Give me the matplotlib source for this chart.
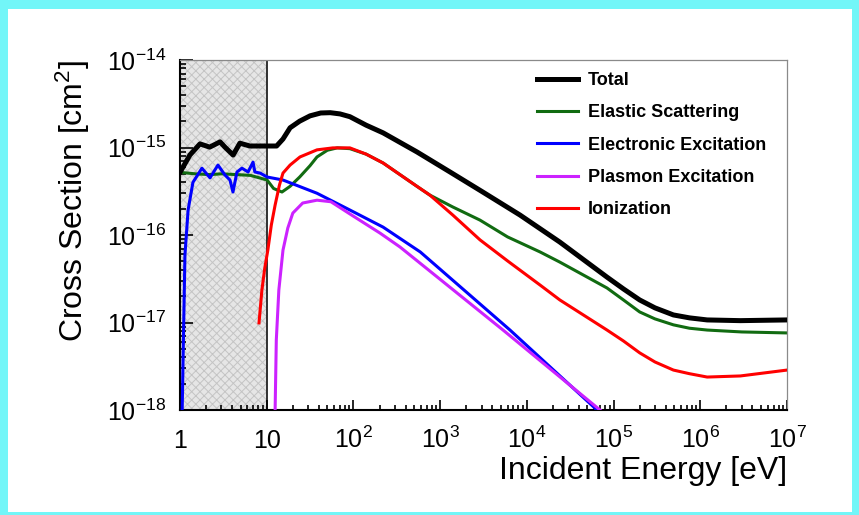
import matplotlib
matplotlib.use('Agg')
import matplotlib.pyplot as plt
from matplotlib.patches import Rectangle
from matplotlib.lines import Line2D
from matplotlib.ticker import LogLocator, NullFormatter

plt.rcParams['font.family'] = ['Liberation Sans', 'DejaVu Sans']
plt.rcParams['mathtext.fontset'] = 'custom'
plt.rcParams['mathtext.rm'] = 'Liberation Sans'
plt.rcParams['mathtext.it'] = 'Liberation Sans:italic'
plt.rcParams['mathtext.bf'] = 'Liberation Sans:bold'
plt.rcParams['hatch.linewidth'] = 0.7

# Total
e_tot = [1.0, 1.3, 1.7, 2.2, 2.9, 3.3, 4.1, 4.9, 6.4, 9.1, 13, 15.4, 18.6, 24, 31.6, 42, 54, 70, 91,
         140, 220, 540, 1300, 3100, 8340, 2.4e4, 8.4e4, 1.3e5, 2.0e5, 3e5, 4.9e5, 7.5e5, 1.2e6, 2.9e6, 1e7]
s_tot = [5.2e-16, 8.2e-16, 1.10e-15, 1.01e-15, 1.16e-15, 1.01e-15, 8.2e-16, 1.12e-15, 1.04e-15, 1.04e-15,
         1.04e-15, 1.25e-15, 1.68e-15, 2.0e-15, 2.3e-15, 2.48e-15, 2.5e-15, 2.42e-15, 2.25e-15,
         1.8e-15, 1.47e-15, 8.9e-16, 5.25e-16, 3.1e-16, 1.69e-16, 8.3e-17, 3.3e-17, 2.42e-17, 1.81e-17,
         1.47e-17, 1.22e-17, 1.13e-17, 1.07e-17, 1.05e-17, 1.07e-17]

# Elastic Scattering
e_ela = [1.0, 1.5, 2.2, 3.0, 4.5, 6.5, 10.1, 12, 15, 18.6, 24, 31.6, 38, 50, 65, 91, 140, 220, 540, 760,
         1400, 2880, 6000, 1.42e4, 2.4e4, 8.4e4, 1.3e5, 2.0e5, 3e5, 4.9e5, 7.5e5, 1.2e6, 3e6, 1e7]
s_ela = [5.2e-16, 5.0e-16, 4.9e-16, 5.0e-16, 4.9e-16, 4.8e-16, 4.25e-16, 3.4e-16, 3.1e-16, 3.6e-16,
         4.6e-16, 6.2e-16, 7.8e-16, 9.3e-16, 9.9e-16, 9.7e-16, 8.4e-16, 6.65e-16, 3.6e-16, 2.86e-16,
         2.09e-16, 1.48e-16, 9.5e-17, 6.4e-17, 4.9e-17, 2.48e-17, 1.81e-17, 1.32e-17, 1.1e-17, 9.4e-18,
         8.6e-18, 8.2e-18, 7.8e-18, 7.6e-18]

# Electronic Excitation
e_exc = [1.06, 1.10, 1.14, 1.24, 1.41, 1.79, 2.22, 2.74, 3.3, 3.77, 4.08, 4.54, 5.18, 6.1, 6.95, 7.3,
         8.4, 10.1, 15.4, 38, 91, 220, 590, 6390, 6.44e4]
s_exc = [1e-18, 8.2e-18, 5.9e-17, 1.93e-16, 4.0e-16, 5.8e-16, 4.5e-16, 6.3e-16, 4.85e-16, 4.25e-16,
         3.1e-16, 5.25e-16, 5.8e-16, 5.25e-16, 6.8e-16, 5.25e-16, 5.1e-16, 4.6e-16, 4.25e-16, 3.0e-16,
         1.93e-16, 1.23e-16, 6.4e-17, 8.2e-18, 1e-18]

# Plasmon Excitation
e_pla = [12.5, 12.9, 13.8, 15.4, 17.5, 20, 26, 38, 55, 91, 203, 344, 5310, 6.98e4]
s_pla = [1e-18, 6.3e-18, 2.35e-17, 6.7e-17, 1.2e-16, 1.78e-16, 2.32e-16, 2.5e-16, 2.4e-16, 1.74e-16,
         1.05e-16, 7.3e-17, 8.2e-18, 1e-18]

# Ionization
e_ion = [8.15, 8.8, 9.5, 10.3, 11.3, 12.5, 14, 15.4, 18.6, 24.2, 38, 58, 91, 140, 220, 540, 760, 1400,
         2880, 6000, 1.42e4, 2.4e4, 8.4e4, 1.3e5, 2.0e5, 3e5, 4.9e5, 7.5e5, 1.2e6, 2.9e6, 1e7]
s_ion = [9.9e-18, 2.35e-17, 4.2e-17, 6.7e-17, 1.3e-16, 2.2e-16, 3.7e-16, 5.1e-16, 6.3e-16, 7.8e-16,
         9.4e-16, 9.9e-16, 9.9e-16, 8.4e-16, 6.65e-16, 3.6e-16, 2.86e-16, 1.69e-16, 8.8e-17, 5.05e-17,
         2.68e-17, 1.81e-17, 8.2e-18, 6.15e-18, 4.5e-18, 3.54e-18, 2.86e-18, 2.6e-18, 2.38e-18, 2.45e-18,
         2.86e-18]

x_ticks = [1, 10, 1e2, 1e3, 1e4, 1e5, 1e6, 1e7]
x_labels = ['1', '10', r'$\mathdefault{10^{2}}$', r'$\mathdefault{10^{3}}$', r'$\mathdefault{10^{4}}$',
            r'$\mathdefault{10^{5}}$', r'$\mathdefault{10^{6}}$', r'$\mathdefault{10^{7}}$']
y_ticks = [1e-18, 1e-17, 1e-16, 1e-15, 1e-14]
y_labels = [r'$\mathdefault{10^{-18}}$', r'$\mathdefault{10^{-17}}$', r'$\mathdefault{10^{-16}}$',
            r'$\mathdefault{10^{-15}}$', r'$\mathdefault{10^{-14}}$']

fig = plt.figure(figsize=(8.59, 5.15), dpi=100)
fig.patch.set_facecolor('#72f6f8')
fig.add_artist(Rectangle((8 / 859, 3 / 515), 844 / 859, 503 / 515, transform=fig.transFigure,
                         facecolor='white', edgecolor='none', zorder=-1))

ax = fig.add_axes([180 / 859, 1 - 410 / 515, 607 / 859, 350 / 515])
ax.set_xscale('log')
ax.set_yscale('log')
ax.set_xlim(1, 1e7)
ax.set_ylim(1e-18, 1e-14)

# shaded low-energy region
ax.axvspan(1, 10, facecolor='#e6e6e6', edgecolor='#c4c4c4', hatch='xxxx', lw=0, zorder=0.5)
ax.axvline(10, color='#222222', lw=1.3, zorder=0.6)

ax.plot(e_ela, s_ela, color='#116b11', lw=2.2, zorder=2)
ax.plot(e_exc, s_exc, color='#0000ff', lw=2.2, zorder=3)
ax.plot(e_pla, s_pla, color='#cc22ff', lw=2.2, zorder=3)
ax.plot(e_ion, s_ion, color='#ff0000', lw=2.2, zorder=4)
ax.plot(e_tot, s_tot, color='black', lw=3.6, zorder=5)

handles = [Line2D([], [], color='black', lw=3.6),
           Line2D([], [], color='#116b11', lw=2.2),
           Line2D([], [], color='#0000ff', lw=2.2),
           Line2D([], [], color='#cc22ff', lw=2.2),
           Line2D([], [], color='#ff0000', lw=2.2)]
names = ['Total', 'Elastic Scattering', 'Electronic Excitation', 'Plasmon Excitation', 'Ionization']
ax.legend(handles, names, loc='upper left', bbox_to_anchor=(537 / 859, 1 - 72 / 515),
          bbox_transform=fig.transFigure, frameon=False, borderpad=0, borderaxespad=0,
          handlelength=2.25, handletextpad=0.55, labelspacing=0.85, prop={'weight': 'bold', 'size': 13})

ax.set_xticks(x_ticks, x_labels)
ax.set_yticks(y_ticks, y_labels)
ax.xaxis.set_minor_locator(LogLocator(base=10, subs=range(2, 10), numticks=20))
ax.yaxis.set_minor_locator(LogLocator(base=10, subs=range(2, 10), numticks=20))
ax.xaxis.set_minor_formatter(NullFormatter())
ax.yaxis.set_minor_formatter(NullFormatter())
ax.tick_params(axis='both', which='both', direction='in', top=False, right=False, width=1.2, labelsize=18)
ax.tick_params(axis='x', which='major', length=7, pad=27)
ax.tick_params(axis='x', which='minor', length=3.6)
ax.tick_params(axis='y', which='major', length=9, pad=10)
ax.tick_params(axis='y', which='minor', length=4.5)
for lbl in ax.get_xticklabels():
    lbl.set_verticalalignment('baseline')

for s in ['left', 'bottom']:
    ax.spines[s].set_linewidth(1.5)
for s in ['top', 'right']:
    ax.spines[s].set_linewidth(0.9)
    ax.spines[s].set_color('#8a8a8a')

ax.set_xlabel('Incident Energy [eV]', fontsize=23, loc='right')
ax.set_ylabel(r'Cross Section [cm$^{\mathdefault{2}}$]', fontsize=23, loc='top')
ax.xaxis.set_label_coords(1.0, -0.13)
ax.yaxis.set_label_coords(-0.145, 1.0)

fig.savefig('out.png', dpi=100, facecolor=fig.get_facecolor())
